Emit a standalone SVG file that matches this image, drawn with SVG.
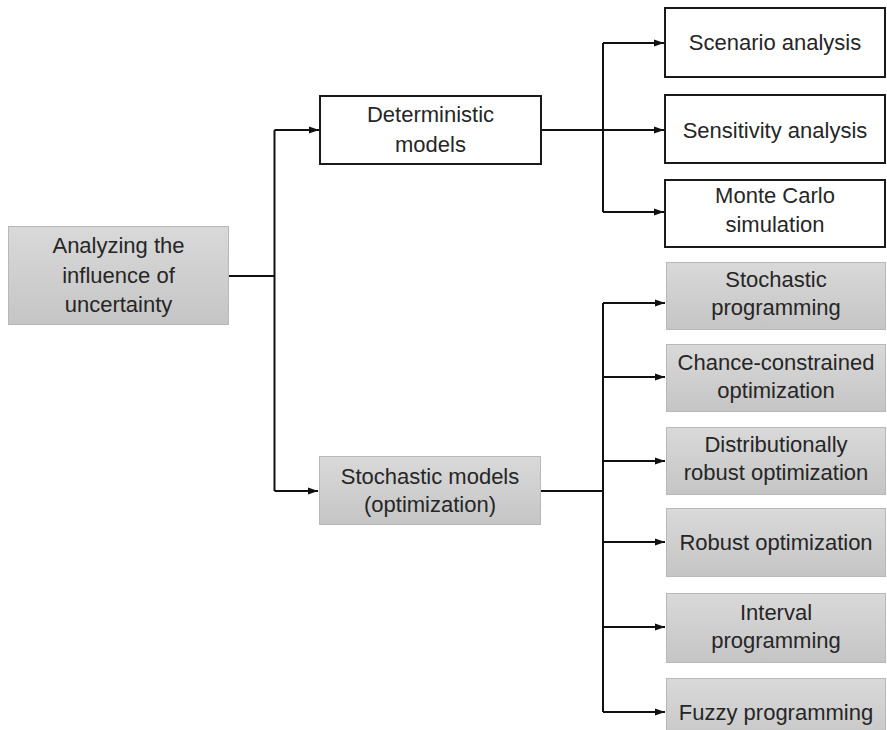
<svg xmlns="http://www.w3.org/2000/svg" width="887" height="730" viewBox="0 0 887 730">
<style>
.w{fill:#fff;stroke:#1a1a1a;stroke-width:2}
.g{fill:url(#gg);stroke:#b8b8b8;stroke-width:1}
text{font-family:"Liberation Sans",Arial,sans-serif;font-size:22px;fill:#262626;text-anchor:middle}
.c{fill:none;stroke:#111;stroke-width:2}
</style>
<defs>
<linearGradient id="gg" x1="0" y1="0" x2="0" y2="1">
<stop offset="0" stop-color="#d9d9d9"/>
<stop offset="1" stop-color="#c5c5c5"/>
</linearGradient>
<marker id="ah" markerWidth="10" markerHeight="8" refX="10" refY="4" orient="auto" markerUnits="userSpaceOnUse">
<path d="M0,0.5 L10,4 L0,7.5 Z" fill="#111"/>
</marker>
</defs>
<g id="connectors">
<path class="c" d="M229,276 H274.5"/>
<path class="c" d="M274.5,130 V491"/>
<path class="c" d="M274.5,130 H319" marker-end="url(#ah)"/>
<path class="c" d="M274.5,491 H318" marker-end="url(#ah)"/>
<path class="c" d="M541,130 H664" marker-end="url(#ah)"/>
<path class="c" d="M603,43 V212"/>
<path class="c" d="M603,43 H664" marker-end="url(#ah)"/>
<path class="c" d="M603,212 H664" marker-end="url(#ah)"/>
<path class="c" d="M541,491 H603"/>
<path class="c" d="M603,303 V712"/>
<path class="c" d="M603,303 H665" marker-end="url(#ah)"/>
<path class="c" d="M603,377 H665" marker-end="url(#ah)"/>
<path class="c" d="M603,461 H665" marker-end="url(#ah)"/>
<path class="c" d="M603,542 H665" marker-end="url(#ah)"/>
<path class="c" d="M603,627 H665" marker-end="url(#ah)"/>
<path class="c" d="M603,712 H665" marker-end="url(#ah)"/>
</g>
<g id="root">
<rect class="g" x="8.5" y="226.5" width="220" height="98"/>
<text x="118.5" y="253">Analyzing the</text>
<text x="118.5" y="283">influence of</text>
<text x="118.5" y="312">uncertainty</text>
</g>
<g id="deterministic">
<rect class="w" x="320" y="96" width="221" height="68"/>
<text x="430.5" y="122">Deterministic</text>
<text x="430.5" y="152">models</text>
</g>
<g id="stochastic">
<rect class="g" x="319.5" y="456.5" width="221" height="68"/>
<text x="430" y="484">Stochastic models</text>
<text x="430" y="512">(optimization)</text>
</g>
<g id="scenario">
<rect class="w" x="665" y="8" width="220" height="69"/>
<text x="775" y="50">Scenario analysis</text>
</g>
<g id="sensitivity">
<rect class="w" x="665" y="95" width="220" height="68"/>
<text x="775" y="138">Sensitivity analysis</text>
</g>
<g id="montecarlo">
<rect class="w" x="665" y="180" width="220" height="67"/>
<text x="775" y="203">Monte Carlo</text>
<text x="775" y="232">simulation</text>
</g>
<g id="stochprog">
<rect class="g" x="666.5" y="262.5" width="219" height="67"/>
<text x="776" y="287">Stochastic</text>
<text x="776" y="315">programming</text>
</g>
<g id="chance">
<rect class="g" x="666.5" y="344.5" width="219" height="67"/>
<text x="776" y="370">Chance-constrained</text>
<text x="776" y="398">optimization</text>
</g>
<g id="distrib">
<rect class="g" x="666.5" y="427.5" width="219" height="67"/>
<text x="776" y="452">Distributionally</text>
<text x="776" y="480">robust optimization</text>
</g>
<g id="robust">
<rect class="g" x="666.5" y="508.5" width="219" height="68"/>
<text x="776" y="550">Robust optimization</text>
</g>
<g id="interval">
<rect class="g" x="666.5" y="593.5" width="219" height="69"/>
<text x="776" y="620">Interval</text>
<text x="776" y="648">programming</text>
</g>
<g id="fuzzy">
<rect class="g" x="666.5" y="678.5" width="219" height="70"/>
<text x="776" y="720">Fuzzy programming</text>
</g>
</svg>
